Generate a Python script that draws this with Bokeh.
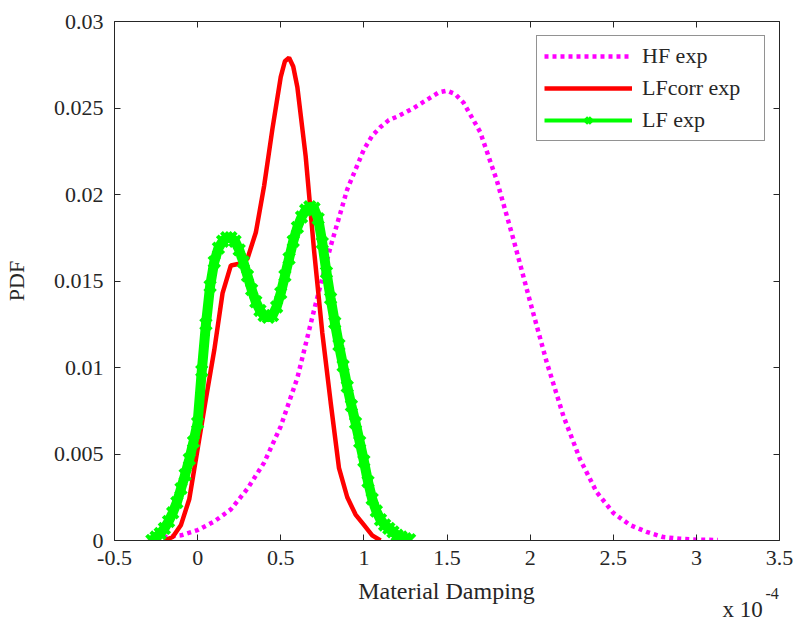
from bokeh.plotting import figure
from bokeh.models import Range1d, FixedTicker, LinearAxis, Legend, LegendItem
from bokeh.layouts import column
from bokeh.core.properties import value
from bokeh.embed import file_html
from bokeh.resources import INLINE

# ---------------- data ----------------
hf_x = [-0.3, -0.2, -0.1, 0.0, 0.1, 0.2, 0.3, 0.4, 0.5, 0.6, 0.7, 0.8, 0.9, 1.0,
        1.05, 1.1, 1.15, 1.2, 1.3, 1.4, 1.45, 1.5, 1.55, 1.6, 1.7, 1.8, 1.9,
        2.0, 2.1, 2.2, 2.3, 2.4, 2.5, 2.6, 2.7, 2.8, 2.9, 3.0, 3.13]
hf_y = [0.0001, 0.0002, 0.0003, 0.0006, 0.0011, 0.0018, 0.0030, 0.0045, 0.0066,
        0.0094, 0.0133, 0.0170, 0.0203, 0.0226, 0.0234, 0.0239, 0.0243, 0.0245,
        0.0250, 0.0256, 0.0259, 0.0260, 0.0258, 0.0253, 0.0236, 0.0208, 0.0174,
        0.0138, 0.0103, 0.0072, 0.0047, 0.0028, 0.0016, 0.0009, 0.0005, 0.0002,
        0.0001, 0.00005, 0.00003]

lfc_x = [-0.2, -0.15, -0.1, -0.05, 0.0, 0.05, 0.1, 0.15, 0.2, 0.25, 0.3, 0.35,
         0.4, 0.45, 0.5, 0.525, 0.55, 0.575, 0.6, 0.65, 0.7, 0.75, 0.8, 0.85,
         0.9, 0.95, 1.0, 1.05, 1.1]
lfc_y = [0.0000, 0.0002, 0.0009, 0.0024, 0.0053, 0.0082, 0.0110, 0.0143, 0.0159,
         0.0160, 0.0163, 0.0178, 0.0205, 0.0238, 0.0268, 0.0277, 0.0279, 0.0274,
         0.0262, 0.0222, 0.0168, 0.0120, 0.0080, 0.0042, 0.0025, 0.0015, 0.0009,
         0.0003, 0.0000]

lf_x = [-0.275, -0.25, -0.225, -0.2, -0.175, -0.15, -0.125, -0.1, -0.075, -0.05,
        -0.025, 0.0, 0.025, 0.05, 0.075, 0.1, 0.125, 0.15, 0.175, 0.2, 0.225,
        0.25, 0.275, 0.3, 0.325, 0.35, 0.375, 0.4, 0.425, 0.45, 0.475, 0.5,
        0.525, 0.55, 0.575, 0.6, 0.625, 0.65, 0.675, 0.7, 0.725, 0.75, 0.775,
        0.8, 0.825, 0.85, 0.875, 0.9, 0.925, 0.95, 0.975, 1.0, 1.025, 1.05,
        1.075, 1.1, 1.125, 1.15, 1.175, 1.2, 1.225, 1.25, 1.275]
lf_y = [0.0000, 0.0002, 0.0004, 0.0007, 0.0011, 0.0016, 0.0022, 0.0030, 0.0038,
        0.0047, 0.0057, 0.0068, 0.0098, 0.0125, 0.0147, 0.0161, 0.0169, 0.0173,
        0.0175, 0.0175, 0.0173, 0.0168, 0.0161, 0.0153, 0.0145, 0.0138, 0.0133,
        0.0130, 0.0129, 0.0130, 0.0135, 0.0143, 0.0153, 0.0163, 0.0173, 0.0181,
        0.0187, 0.0191, 0.0193, 0.0192, 0.0186, 0.0172, 0.0155, 0.0140, 0.0126,
        0.0113, 0.0101, 0.0089, 0.0078, 0.0068, 0.0057, 0.0046, 0.0034, 0.0024,
        0.0017, 0.0012, 0.0009, 0.0007, 0.0005, 0.0003, 0.0002, 0.0001, 0.00005]

x_ticks = [-0.5, 0.0, 0.5, 1.0, 1.5, 2.0, 2.5, 3.0, 3.5]
x_tick_labels = ["-0.5", "0", "0.5", "1", "1.5", "2", "2.5", "3", "3.5"]
y_ticks = [0.0, 0.005, 0.01, 0.015, 0.02, 0.025, 0.03]
y_tick_labels = ["0", "0.005", "0.01", "0.015", "0.02", "0.025", "0.03"]

x_label = "Material Damping"
y_label = "PDF"
scale_base = "x 10"
scale_exp = "-4"

FONT = "Liberation Serif"
INK = "#262626"
MAGENTA = "#ff00ff"
RED = "#ff0000"
GREEN = "#00ff00"

p = figure(width=799, height=578, output_backend="svg", toolbar_location=None,
           x_range=Range1d(-0.5, 3.5), y_range=Range1d(0, 0.03),
           min_border_left=114, min_border_right=20, min_border_top=21,
           min_border_bottom=38)
p.xgrid.visible = False
p.ygrid.visible = False
p.outline_line_color = None
p.background_fill_color = "white"
p.border_fill_color = "white"


def style(ax):
    ax.major_tick_in = 6
    ax.major_tick_out = 0
    ax.minor_tick_in = 0
    ax.minor_tick_out = 0
    ax.axis_line_color = INK
    ax.major_tick_line_color = INK
    ax.major_label_text_font = FONT
    ax.major_label_text_color = INK
    ax.axis_label_text_font = FONT
    ax.axis_label_text_font_style = "normal"
    ax.axis_label_text_color = INK


xb = p.xaxis[0]
style(xb)
xb.ticker = FixedTicker(ticks=x_ticks)
xb.major_label_overrides = dict(zip(x_ticks, x_tick_labels))
xb.major_label_text_font_size = "22px"
xb.major_label_standoff = 10

yl = p.yaxis[0]
style(yl)
yl.ticker = FixedTicker(ticks=y_ticks)
yl.major_label_overrides = dict(zip(y_ticks, y_tick_labels))
yl.major_label_text_font_size = "22px"
yl.major_label_standoff = 11
yl.axis_label = y_label
yl.axis_label_text_font_size = "22px"
yl.axis_label_standoff = 22

# box axes on top and right: ticks only, no labels
xt = LinearAxis(ticker=FixedTicker(ticks=x_ticks))
style(xt)
xt.major_label_overrides = {t: "" for t in x_ticks}
xt.major_label_text_font_size = "1px"
xt.major_label_standoff = 0
p.add_layout(xt, "above")

yr = LinearAxis(ticker=FixedTicker(ticks=y_ticks))
style(yr)
yr.major_label_overrides = {t: "" for t in y_ticks}
yr.major_label_text_font_size = "1px"
yr.major_label_standoff = 0
p.add_layout(yr, "right")

r_hf = p.line(hf_x, hf_y, line_color=MAGENTA, line_width=4.5, line_dash="4 4")
r_lfc = p.line(lfc_x, lfc_y, line_color=RED, line_width=4.5)
p.line(lf_x, lf_y, line_color=GREEN, line_width=10)
r_lf = p.line(lf_x, lf_y, line_color=GREEN, line_width=4)
r_lfm = p.scatter(lf_x, lf_y, marker="x", size=15, line_width=4, line_color=GREEN)

legend = Legend(items=[LegendItem(label="HF exp", renderers=[r_hf]),
                       LegendItem(label="LFcorr exp", renderers=[r_lfc]),
                       LegendItem(label="LF exp", renderers=[r_lf, r_lfm])],
                location="top_right")
legend.label_text_font = FONT
legend.label_text_font_size = "22px"
legend.label_text_color = INK
legend.glyph_width = 88
legend.glyph_height = 20
legend.label_height = 20
legend.label_width = 115
legend.label_standoff = 10
legend.spacing = 6
legend.padding = 7
legend.margin = 14
legend.border_line_color = INK
legend.border_line_width = 1
legend.background_fill_color = "white"
legend.background_fill_alpha = 1.0
p.add_layout(legend)

# strip below the plot holding the x-axis title and the scale factor;
# its frame is aligned with the main frame (page x 114..779), so the
# x range is expressed in page pixels.
q = figure(width=799, height=45, output_backend="svg", toolbar_location=None,
           x_range=Range1d(114, 779), y_range=Range1d(0, 45),
           x_axis_location=None, y_axis_location=None,
           min_border=0, min_border_left=114, min_border_right=20,
           min_border_top=0, min_border_bottom=0)
q.grid.visible = False
q.outline_line_color = None
q.background_fill_color = "white"
q.border_fill_color = "white"
q.text(x=[446], y=[33], text=[x_label], text_font=value(FONT),
       text_font_size=value("24px"), text_color=INK, text_align="center",
       text_baseline="alphabetic")
q.text(x=[722], y=[14], text=[scale_base], text_font=value(FONT),
       text_font_size=value("23px"), text_color=INK, text_align="left",
       text_baseline="alphabetic")
q.text(x=[765], y=[30], text=[scale_exp], text_font=value(FONT),
       text_font_size=value("16px"), text_color=INK, text_align="left",
       text_baseline="alphabetic")

layout = column(p, q, spacing=0)
open("out.html", "w").write(file_html(layout, INLINE))
